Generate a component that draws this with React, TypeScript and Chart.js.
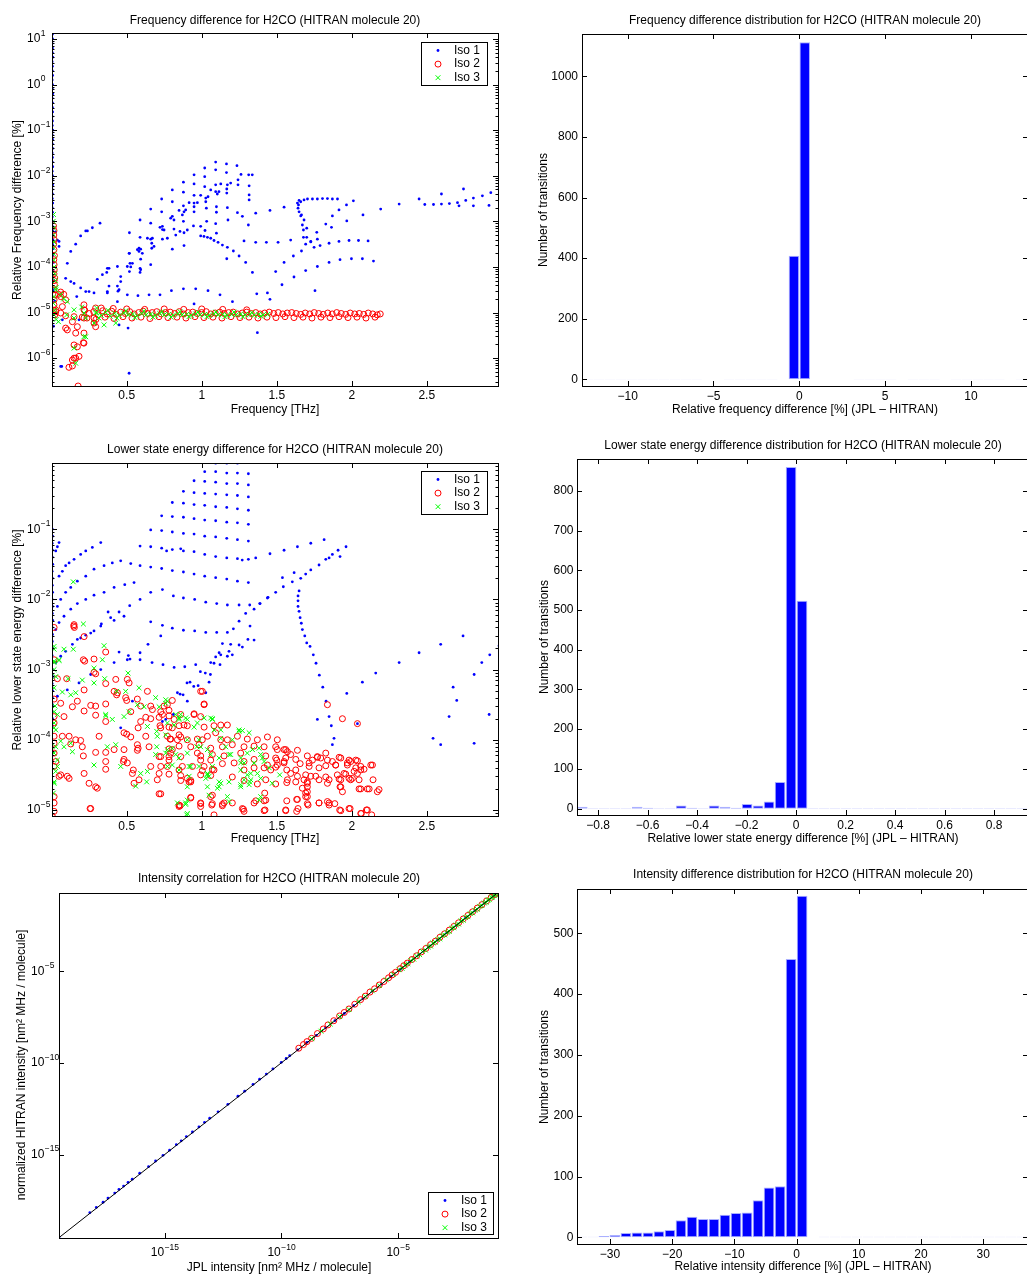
import React, { useEffect, useRef } from 'react';
import { Chart, registerables } from 'chart.js';

Chart.register(...registerables);

type Pair = [number, number];

// ===================== DATA =====================
// Panel 1: frequency difference. [frequency THz, log10(relative frequency difference %)]
const freqIso1: Pair[] = [
  [0.004,1.1],[0.006,1.0],[0.003,0.9],[0.005,0.8],[0.004,0.7],[0.007,0.6],[0.003,0.5],[0.005,0.4],[0.004,0.3],[0.006,0.2],
  [0.003,0.1],[0.005,0.0],[0.004,-0.1],[0.007,-0.2],[0.003,-0.3],[0.005,-0.4],[0.004,-0.5],[0.006,-0.6],[0.003,-0.7],[0.005,-0.8],
  [0.004,-0.9],[0.007,-1.0],[0.003,-1.1],[0.005,-1.2],[0.004,-1.3],[0.006,-1.4],[0.003,-1.5],[0.005,-1.6],[0.004,-1.7],[0.007,-1.8],
  [0.003,-1.9],[0.005,-2.0],[0.004,-2.1],[0.006,-2.2],[0.003,-2.3],[0.005,-2.4],[0.004,-2.5],[0.007,-2.6],[0.003,-2.7],[0.005,-2.8],
  [0.004,-2.9],[0.006,-3.0],[0.003,-3.1],[0.005,-3.2],[0.004,-3.3],[0.007,-3.4],[0.005,-3.5],[0.009,-3.6],[0.006,-3.75],[0.012,-3.9],
  [0.008,-4.1],[0.015,-4.3],[0.01,-4.5],[0.02,-4.75],[0.012,-5.3],
  [1.093,-1.70],[1.165,-1.74],[1.235,-1.78],[1.02,-1.83],[0.949,-1.98],[1.02,-2.02],[1.093,-1.87],[1.165,-1.93],[1.262,-1.97],[1.313,-1.98],
  [1.337,-1.98],[1.242,-2.09],[1.242,-2.20],[0.878,-2.14],[0.949,-2.18],[1.02,-2.24],[1.093,-2.20],[1.127,-2.18],[1.171,-2.20],[1.193,-2.16],
  [1.167,-2.29],[1.167,-2.38],[1.316,-2.22],[1.316,-2.42],[1.316,-2.53],[0.804,-2.31],[0.878,-2.36],[0.949,-2.43],[0.993,-2.43],[1.027,-2.49],
  [1.042,-2.46],[1.06,-2.31],[1.093,-2.35],[1.104,-2.40],[1.115,-2.35],[1.027,-2.57],[0.733,-2.51],[0.804,-2.57],[0.878,-2.66],[0.916,-2.59],
  [0.949,-2.60],[0.971,-2.59],[0.949,-2.68],[0.949,-2.79],[1.031,-2.71],[1.098,-2.68],[1.098,-2.80],[1.171,-2.70],[0.66,-2.73],[0.733,-2.79],
  [0.849,-2.76],[0.882,-2.79],[0.893,-2.75],[0.871,-2.86],[0.878,-3.0],[0.804,-2.89],[0.815,-2.97],[0.793,-2.93],[0.589,-2.97],[0.66,-3.04],
  [0.722,-3.13],[0.738,-3.11],[0.749,-3.19],[0.738,-3.18],[0.815,-3.17],[0.855,-3.22],[0.904,-3.19],[0.945,-3.10],[0.993,-3.11],[1.033,-3.0],
  [1.022,-3.20],[1.093,-3.05],[1.098,-3.26],[1.175,-2.97],[0.518,-3.25],[0.589,-3.35],[0.638,-3.37],[0.66,-3.39],[0.671,-3.37],[0.682,-3.55],
  [0.667,-3.48],[0.667,-3.59],[0.738,-3.39],[0.771,-3.37],[0.827,-3.30],[0.882,-3.25],[0.882,-3.53],[0.804,-3.61],[0.571,-3.62],[0.593,-3.61],
  [0.604,-3.70],[0.582,-3.66],[0.518,-3.70],[0.593,-3.83],[0.66,-3.95],[0.504,-3.99],[0.527,-4.0],[0.538,-3.92],[0.518,-4.10],[0.589,-4.03],
  [0.589,-4.12],[0.46,-4.21],[0.46,-4.32],[0.504,-4.61],[0.575,-4.63],[0.649,-4.61],[0.722,-4.61],[0.798,-4.52],[0.878,-4.48],[0.96,-4.48],
  [1.042,-4.52],[1.122,-4.61],[1.205,-4.76],[0.949,-4.81],
  [0.993,-3.32],[1.015,-3.33],[1.038,-3.35],[1.06,-3.37],[1.082,-3.42],[1.109,-3.46],[1.138,-3.52],[1.171,-3.57],[1.211,-3.65],[1.249,-3.76],
  [1.293,-3.90],[1.338,-4.12],[1.282,-3.43],[1.36,-3.46],[1.431,-3.46],[1.509,-3.46],[1.593,-3.41],[1.678,-3.35],[1.727,-3.45],[1.771,-3.39],
  [1.36,-2.82],[1.455,-2.76],[1.549,-2.69],[1.238,-2.81],[1.271,-2.89],[1.311,-3.08],[1.167,-3.82],[1.367,-4.59],[1.438,-4.57],[1.455,-4.71],
  [1.493,-4.10],[1.549,-3.90],[1.611,-3.76],[1.665,-3.65],[1.693,-3.50],[1.7,-3.35],[1.678,-3.19],[1.671,-3.08],[1.66,-2.88],[1.649,-2.79],
  [1.645,-2.64],[1.535,-4.39],[1.615,-4.22],[1.693,-4.08],[1.771,-3.99],
  [1.638,-2.60],[1.649,-2.54],[1.66,-2.57],[1.682,-2.53],[1.705,-2.51],[1.738,-2.51],[1.771,-2.51],[1.805,-2.50],[1.838,-2.50],[1.871,-2.51],
  [1.905,-2.51],[1.642,-2.71],[1.665,-2.86],[1.682,-2.97],[1.70,-3.15],[1.727,-3.44],[1.749,-3.57],
  [1.849,-3.90],[1.922,-3.84],[1.998,-3.82],[2.071,-3.82],[2.145,-3.87],[1.789,-3.53],[1.849,-3.48],[1.915,-3.44],[1.982,-3.42],[2.045,-3.42],
  [2.109,-3.43],[1.767,-3.24],[1.827,-3.06],[1.865,-3.13],[1.871,-2.88],[1.915,-2.75],[1.965,-2.64],[2.011,-2.55],[1.967,-2.99],[2.075,-2.86],
  [2.193,-2.73],[2.316,-2.62],[2.449,-2.51],[2.487,-2.63],[2.545,-2.63],[2.598,-2.40],[2.598,-2.62],[2.651,-2.61],[2.705,-2.59],[2.715,-2.66],
  [2.745,-2.29],[2.76,-2.54],[2.811,-2.49],[2.811,-2.66],[2.871,-2.44],[2.915,-2.65],[2.927,-2.37],[2.982,-2.29],
  [1.755,-4.52],[1.371,-5.44],[0.516,-6.33],[0.067,-6.18],
  [0.193,-3.32],[0.227,-3.21],[0.049,-3.44],[0.127,-3.66],[0.104,-3.92],[0.093,-4.25],[0.127,-4.32],[0.149,-4.36],[0.193,-4.46],[0.227,-4.54],
  [0.249,-4.54],[0.282,-4.57],[0.167,-4.65],[0.071,-5.16],[0.182,-5.16],[0.06,-6.18],[0.338,-4.17],[0.382,-4.03],[0.438,-3.99],[0.516,-3.70],
  [0.582,-3.59],[0.522,-3.92],[0.593,-4.06],[0.371,-4.57],[0.449,-4.50],[0.438,-4.76],[0.449,-5.27],[0.509,-5.34],
  [0.027,-3.23],[0.038,-3.41],[0.049,-3.55],[0.238,-3.21],[0.271,-3.14],[0.322,-3.04],[0.16,-3.50],[0.371,-4.03],[0.382,-4.42],[0.438,-4.42],
  [0.371,-4.54],[0.442,-4.53],[0.304,-4.27],[0.367,-4.12]
];
const freqIso2: Pair[] = [
  [0.012,-3.10],[0.015,-3.20],[0.014,-3.30],[0.016,-3.40],[0.013,-3.50],[0.015,-3.62],[0.018,-3.75],[0.014,-3.84],[0.016,-3.95],[0.017,-4.06],
  [0.015,-4.15],[0.02,-4.24],[0.016,-4.30],[0.018,-4.39],[0.014,-4.5],[0.02,-4.61],[0.016,-4.72],[0.015,-4.83],[0.012,-4.95],[0.02,-5.05],
  [0.06,-4.65],[0.093,-4.72],[0.071,-4.87],[0.027,-4.94],[0.027,-4.98],[0.06,-5.01],[0.093,-5.07],[0.149,-5.09],[0.138,-5.20],[0.093,-5.34],
  [0.104,-5.38],[0.215,-4.83],[0.215,-4.94],[0.204,-5.10],[0.215,-5.12],[0.282,-5.23],[0.282,-5.12],[0.171,-5.31],[0.16,-5.45],[0.211,-5.66],
  [0.149,-5.71],[0.171,-5.75],[0.149,-6.0],[0.138,-6.04],[0.16,-6.0],[0.182,-5.96],[0.115,-6.20],[0.138,-6.17],[0.176,-6.61],[0.215,-5.67],
  [0.215,-5.45],[0.293,-5.31],[0.293,-4.90],[0.06,-4.55],[0.045,-4.6],[0.08,-4.6],
  [0.22,-4.95],[0.25,-5.02],[0.28,-4.98],[0.31,-5.05],[0.34,-4.96],[0.37,-5.03],[0.40,-4.97],[0.43,-5.04],[0.46,-4.99],[0.49,-5.02],
  [0.52,-4.98],[0.55,-5.03],[0.58,-5.0],[0.61,-4.97],[0.64,-5.02],[0.67,-5.0],[0.70,-4.98],[0.73,-5.03],[0.76,-5.0],[0.79,-4.99],
  [0.82,-5.02],[0.85,-4.98],[0.88,-5.03],[0.91,-5.0],[0.94,-4.99],[0.97,-5.02],[1.00,-5.0],[1.03,-4.98],[1.06,-5.03],[1.09,-5.01],
  [1.12,-4.99],[1.15,-5.02],[1.18,-5.0],[1.21,-4.99],[1.24,-5.03],[1.27,-5.01],[1.30,-4.99],[1.33,-5.02],[1.36,-5.0],[1.39,-5.03],
  [1.42,-5.01],[1.45,-4.99],[1.48,-5.02],[1.51,-5.0],[1.54,-5.03],[1.57,-5.01],[1.60,-5.0],[1.63,-5.02],[1.66,-5.04],[1.69,-5.01],
  [1.72,-5.03],[1.75,-5.0],[1.78,-5.02],[1.81,-5.04],[1.84,-5.01],[1.87,-5.03],[1.90,-5.0],[1.93,-5.02],[1.96,-5.04],[1.99,-5.01],
  [2.02,-5.03],[2.05,-5.02],[2.08,-5.04],[2.11,-5.01],[2.14,-5.03],[2.17,-5.05],[2.19,-5.03],
  [0.235,-5.12],[0.295,-5.15],[0.355,-5.10],[0.415,-5.13],[0.475,-5.09],[0.535,-5.12],[0.595,-5.10],[0.655,-5.13],[0.715,-5.09],[0.775,-5.11],
  [0.835,-5.10],[0.895,-5.12],[0.955,-5.09],[1.015,-5.11],[1.075,-5.10],[1.135,-5.12],[1.195,-5.09],[1.255,-5.11],[1.315,-5.10],[1.375,-5.12],
  [1.435,-5.10],[1.495,-5.11],[1.555,-5.09],[1.615,-5.11],[1.675,-5.10],[1.735,-5.12],[1.795,-5.10],[1.855,-5.11],[1.915,-5.09],[1.975,-5.11],
  [2.035,-5.10],[2.095,-5.12],[2.155,-5.10],
  [0.33,-4.90],[0.41,-4.91],[0.5,-4.92],[0.62,-4.93],[0.75,-4.92],[0.88,-4.93],[1.0,-4.92],[1.14,-4.93],[1.3,-4.94]
];
const freqIso3: Pair[] = [
  [0.012,-2.85],[0.01,-3.0],[0.013,-3.15],[0.011,-3.3],[0.014,-3.45],[0.012,-3.58],[0.015,-3.72],[0.013,-3.85],[0.016,-4.0],[0.02,-4.15],
  [0.025,-4.3],[0.03,-4.45],[0.027,-4.5],[0.015,-4.65],[0.012,-4.8],[0.02,-4.95],[0.015,-5.05],[0.03,-5.15],
  [0.104,-4.76],[0.149,-4.94],[0.149,-5.12],[0.215,-5.01],[0.227,-5.12],[0.293,-5.01],[0.282,-5.23],[0.215,-5.53],[0.227,-5.53],[0.149,-5.78],
  [0.16,-6.11],[0.349,-5.27],[0.427,-5.23],[0.06,-4.6],[0.08,-4.7],[0.045,-5.2],[0.1,-5.05],[0.2,-4.88],[0.3,-4.9],
  [0.30,-5.0],[0.33,-5.06],[0.36,-5.0],[0.39,-5.08],[0.42,-5.02],[0.45,-5.06],[0.48,-5.01],[0.51,-5.05],[0.54,-5.03],[0.57,-5.07],
  [0.60,-5.02],[0.63,-5.05],[0.66,-5.03],[0.69,-5.06],[0.72,-5.02],[0.75,-5.05],[0.78,-5.04],[0.81,-5.06],[0.84,-5.03],[0.87,-5.05],
  [0.90,-5.04],[0.93,-5.06],[0.96,-5.03],[0.99,-5.05],[1.02,-5.04],[1.05,-5.06],[1.08,-5.03],[1.11,-5.05],[1.14,-5.04],[1.17,-5.06],
  [1.20,-5.04],[1.23,-5.05],[1.26,-5.03],[1.29,-5.05],[1.32,-5.04],[1.35,-5.06],[1.38,-5.04],[1.41,-5.05],[1.44,-5.04],
  [0.315,-5.12],[0.375,-4.95],[0.435,-5.12],[0.495,-4.96],[0.555,-5.11],[0.615,-4.97],[0.675,-5.10],[0.735,-4.98],[0.795,-5.10],[0.855,-4.98],
  [0.915,-5.09],[0.975,-4.99],[1.035,-5.09],[1.095,-4.99],[1.155,-5.09],[1.215,-4.99],[1.275,-5.09],[1.335,-5.0],[1.395,-5.08]
];
const freqXTicks = [0.5, 1, 1.5, 2, 2.5];
const freqYTickExps = [1, 0, -1, -2, -3, -4, -5, -6];

// Panel 2: frequency difference histogram
const freqDiffBins = [
  -12.285, -11.655, -11.025, -10.395, -9.765, -9.135, -8.505, -7.875, -7.245, -6.615, -5.985, -5.355, -4.725, -4.095,
  -3.465, -2.835, -2.205, -1.575, -0.945, -0.315, 0.315, 0.945, 1.575, 2.205, 2.835, 3.465, 4.095, 4.725, 5.355, 5.985,
  6.615, 7.245, 7.875, 8.505, 9.135, 9.765, 10.395, 11.025, 11.655, 12.285, 12.915
];
const freqDiffCounts = [
  1, 1, 1, 1, 1, 1, 1, 1, 1, 1, 1, 0, 0, 1,
  1, 1, 1, 1, 0, 408, 1113, 0, 0, 0, 0, 1, 1, 1, 1, 0,
  1, 1, 1, 0, 1, 1, 1, 1, 1, 0, 1
];
const freqDiffXTicks = [-10, -5, 0, 5, 10];
const freqDiffYTicks = [0, 200, 400, 600, 800, 1000];

// Panel 3: lower state energy difference. [frequency THz, log10(relative difference %)]
const elowIso1: Pair[] = [
  [0.004,-1.0],[0.006,-1.1],[0.003,-1.2],[0.005,-1.3],[0.004,-1.4],[0.007,-1.5],[0.003,-1.6],[0.005,-1.7],[0.004,-1.8],[0.006,-1.9],
  [0.003,-2.0],[0.005,-2.1],[0.004,-2.2],[0.007,-2.3],[0.003,-2.4],[0.005,-2.5],[0.004,-2.6],[0.006,-2.7],[0.003,-2.8],[0.005,-2.9],
  [0.004,-3.0],[0.007,-3.1],[0.003,-3.2],[0.005,-3.3],[0.004,-3.4],[0.006,-3.5],[0.003,-3.6],[0.005,-3.7],[0.004,-3.8],
  [1.093,-0.06],[1.167,-0.06],[1.238,-0.06],
  [1.02,-0.18],[1.093,-0.18],[1.167,-0.2],[1.238,-0.2],[1.311,-0.21],
  [0.949,-0.31],[1.02,-0.32],[1.093,-0.33],[1.167,-0.35],[1.238,-0.35],[1.311,-0.37],
  [0.878,-0.46],[0.949,-0.48],[1.02,-0.49],[1.093,-0.5],[1.167,-0.51],[1.238,-0.52],[1.311,-0.54],
  [0.804,-0.62],[0.878,-0.63],[0.949,-0.65],[1.02,-0.66],[1.093,-0.68],[1.167,-0.69],[1.238,-0.71],[1.311,-0.73],
  [0.733,-0.81],[0.804,-0.82],[0.878,-0.83],[0.949,-0.85],[1.02,-0.87],[1.093,-0.88],[1.167,-0.9],[1.238,-0.91],[1.311,-0.93],
  [0.66,-1.01],[0.733,-1.02],[0.804,-1.04],[0.878,-1.06],[0.949,-1.07],[1.02,-1.1],[1.093,-1.11],[1.167,-1.13],[1.238,-1.15],[1.311,-1.17],
  [0.589,-1.24],[0.66,-1.25],[0.733,-1.27],[0.766,-1.31],[0.804,-1.29],[0.86,-1.28],[0.878,-1.31],[0.949,-1.32],[1.02,-1.36],[1.093,-1.39],
  [1.167,-1.41],[1.238,-1.42],[1.27,-1.44],[1.311,-1.43],[1.36,-1.41],[1.455,-1.35],[1.549,-1.3],[1.638,-1.25],[1.727,-1.2],[1.816,-1.15],
  [0.527,-1.49],[0.589,-1.52],[0.66,-1.54],[0.733,-1.56],[0.804,-1.59],[0.878,-1.61],[0.949,-1.64],[1.02,-1.67],[1.093,-1.69],[1.167,-1.71],
  [1.238,-1.74],[1.311,-1.76],
  [1.909,-1.3],[1.962,-1.25],[1.922,-1.39],[1.871,-1.36],[1.849,-1.41],[1.827,-1.43],[1.782,-1.51],[1.727,-1.58],[1.693,-1.64],[1.66,-1.7],
  [1.616,-1.62],[1.538,-1.69],[1.438,-1.98],[1.389,-2.06],[1.349,-2.14],[1.293,-2.2],
  [1.649,-1.88],[1.642,-1.95],[1.642,-2.02],[1.642,-2.1],[1.649,-2.17],[1.656,-2.26],[1.664,-2.34],[1.671,-2.43],[1.687,-2.52],[1.7,-2.62],
  [1.722,-2.67],[1.744,-2.79],[1.762,-2.91],[1.784,-3.08],[1.807,-3.25],[1.829,-3.45],[1.849,-3.67],[1.864,-3.8],[1.882,-3.98],[1.871,-4.07],
  [1.771,-3.71],[2.16,-3.05],[2.071,-3.18],[2.316,-2.9],[1.967,-3.34],[2.038,-3.77],[2.449,-2.76],[2.593,-2.64],[2.676,-3.25],[2.7,-3.44],
  [2.816,-3.07],[2.867,-2.9],[2.92,-2.79],[2.982,-2.66],[2.742,-2.52],[2.916,-3.64],[2.649,-3.67],[2.542,-3.98],[2.593,-4.07],[2.816,-4.05],
  [0.049,-1.19],[0.038,-1.25],[0.027,-1.31],[0.049,-1.67],[0.071,-1.6],[0.093,-1.52],[0.116,-1.48],[0.149,-1.43],[0.193,-1.36],[0.227,-1.31],
  [0.271,-1.26],[0.327,-1.19],
  [0.038,-2.1],[0.06,-2.0],[0.093,-1.9],[0.127,-1.83],[0.171,-1.74],[0.227,-1.67],[0.282,-1.57],[0.349,-1.52],[0.404,-1.48],[0.46,-1.45],
  [0.027,-2.43],[0.049,-2.33],[0.082,-2.24],[0.127,-2.14],[0.171,-2.06],[0.227,-2.0],[0.282,-1.94],[0.349,-1.9],[0.416,-1.83],[0.487,-1.79],
  [0.549,-1.76],
  [0.027,-2.9],[0.06,-2.81],[0.093,-2.74],[0.138,-2.64],[0.193,-2.55],[0.26,-2.48],[0.327,-2.38],[0.416,-2.3],[0.482,-2.24],
  [0.038,-3.38],[0.104,-3.29],[0.182,-3.19],[0.26,-3.07],[0.327,-3.0],[0.416,-2.9],[0.504,-2.86],
  [0.376,-2.18],[0.393,-2.26],[0.449,-2.18],[0.52,-2.09],[0.589,-2.0],[0.66,-1.9],[0.738,-1.86],[0.811,-1.95],[0.878,-1.98],[0.953,-2.0],
  [1.027,-2.04],[1.1,-2.06],[1.171,-2.08],[1.249,-2.08],[1.32,-2.08],[1.387,-2.06],[1.442,-1.97],[1.493,-1.9],[1.544,-1.82],[1.604,-1.75],
  [0.331,-2.35],[0.282,-2.45],[0.227,-2.51],[0.171,-2.57],
  [0.66,-2.32],[0.738,-2.37],[0.804,-2.41],[0.878,-2.44],[0.953,-2.45],[1.027,-2.47],[1.1,-2.47],[1.171,-2.47],[1.211,-2.42],[1.249,-2.31],
  [1.322,-2.38],[0.727,-2.52],[0.642,-2.64],[0.589,-2.76],[0.522,-2.85],
  [0.589,-2.86],[0.669,-2.9],[0.742,-2.93],[0.816,-2.97],[0.887,-2.96],
  [0.838,-3.33],[0.876,-3.36],[0.902,-3.19],[0.947,-3.24],[0.991,-3.03],[1.024,-3.05],[1.058,-3.07],
  [1.138,-2.63],[1.193,-2.64],[1.249,-2.65],[1.271,-2.68],[1.308,-2.57],[1.349,-2.58],[1.116,-2.76],[1.127,-2.79],[1.182,-2.74],[1.204,-2.79],
  [1.171,-2.81],[1.093,-2.82],[1.06,-2.9],[1.082,-2.91],[1.122,-2.93],[0.96,-2.93],[1.049,-3.18],[0.922,-3.18],[0.976,-3.23],[0.856,-3.35],
  [0.904,-3.45],[1.027,-3.33],[0.811,-3.64],[0.76,-3.71],[0.738,-3.74],
  [0.46,-3.83],[0.538,-3.45],[0.511,-2.8],[0.449,-2.75]
];
const elowIso2: Pair[] = [
  [0.016,-2.40],[0.149,-2.36],[0.151,-2.40],[0.147,-2.38],[0.216,-2.53],[0.211,-2.86],[0.22,-2.88],[0.282,-2.85],[0.36,-2.75],[0.1,-3.13],
  [0.038,-3.13],[0.016,-2.86],[0.282,-3.04],[0.293,-3.06],[0.216,-3.29],[0.36,-3.20],[0.427,-3.14],[0.416,-3.31],[0.438,-3.33],[0.433,-3.36],
  [0.504,-3.14],[0.516,-3.19],[0.493,-3.40],[0.5,-3.44],[0.638,-3.31],[0.571,-3.42],[0.593,-3.52],[0.66,-3.52],[0.671,-3.57],[0.527,-3.60],
  [0.36,-3.49],[0.293,-3.52],[0.171,-3.45],[0.138,-3.53],[0.216,-3.59],[0.26,-3.51],[0.06,-3.48],[0.016,-3.42],[0.082,-3.67],[0.016,-3.67],
  [0.293,-3.65],[0.36,-3.74],[0.482,-3.90],[0.5,-3.92],[0.576,-3.83],[0.593,-3.74],[0.627,-3.68],[0.66,-3.70],[0.716,-3.68],[0.727,-3.60],
  [0.782,-3.66],[0.722,-3.80],[0.804,-3.83],[0.882,-3.79],[0.949,-3.64],[0.993,-3.31],[1.016,-3.50],[0.116,-3.95],[0.071,-3.95],[0.16,-4.0],
  [0.193,-4.01],[0.127,-4.06],[0.204,-4.10],[0.211,-4.23],[0.016,-3.76],[0.016,-3.95],[0.016,-4.05],[0.016,-4.19],[0.027,-4.31],[0.016,-4.38],
  [0.049,-4.52],[0.016,-4.90],[0.016,-5.02],[0.316,-3.95],[0.293,-4.18],[0.36,-4.18],[0.36,-4.31],[0.482,-4.28],[0.478,-4.31],[0.416,-4.14],
  [0.571,-4.07],[0.576,-4.12],[0.571,-4.15],[0.482,-4.14],[0.527,-3.96],[0.216,-4.48],[0.293,-4.67],[0.36,-4.42],[0.549,-4.62],[0.538,-4.48],
  [0.249,-4.62],[0.104,-4.52],[0.26,-4.98],[0.704,-4.57],[0.716,-4.48],[0.782,-4.29],[0.793,-4.19],[0.838,-4.0],[0.849,-4.43],[0.904,-4.55],
  [0.727,-4.38],[0.716,-4.24],[0.916,-4.60],[0.993,-4.95],[0.927,-4.83],[0.849,-4.95],[1.06,-4.81],[1.138,-4.92],[1.082,-5.07],[0.627,-3.95],
  [0.649,-4.10],[0.66,-4.38],[0.771,-3.95],[0.789,-3.99],[0.782,-4.13],[0.849,-3.93],[0.904,-4.0],[0.971,-3.99],[0.971,-4.19],[0.993,-4.29],
  [0.938,-4.38],[1.016,-4.38],[1.082,-4.43],[1.06,-4.29],
  [1.004,-3.31],[1.016,-3.49],[0.804,-3.44],[0.771,-3.50],[0.749,-3.52],[0.782,-3.58],[0.738,-3.64],[0.949,-3.63],[0.993,-3.67],[0.86,-3.64],
  [0.816,-3.71],[0.904,-3.80],[0.849,-3.80],[0.782,-3.82],[0.727,-3.83],[1.016,-3.82],[1.082,-3.80],[1.127,-3.79],[1.171,-3.79],[0.86,-3.96],
  [0.793,-3.99],[1.004,-4.0],[1.038,-3.95],[1.093,-3.90],[1.127,-4.0],[1.171,-4.0],[1.238,-3.95],[1.304,-3.99],[1.371,-4.0],[1.438,-3.96],
  [1.504,-4.0],[0.804,-4.14],[0.849,-4.09],[0.927,-4.10],[0.982,-4.07],[1.06,-4.12],[1.138,-4.10],[1.204,-4.07],[1.282,-4.10],[1.349,-4.09],
  [1.416,-4.10],[1.493,-4.10],[1.549,-4.14],[1.571,-4.17],[1.638,-4.15],[1.704,-4.23],[1.771,-4.25],[1.827,-4.19],[1.916,-4.25],[1.982,-4.29],
  [2.038,-4.30],[2.138,-4.36],[0.727,-4.24],[0.782,-4.24],[0.86,-4.24],[0.993,-4.23],[1.071,-4.21],[1.149,-4.23],[1.26,-4.19],[1.282,-4.31],
  [1.349,-4.28],[1.427,-4.23],[1.493,-4.26],[1.56,-4.26],[1.627,-4.28],[1.656,-4.34],[1.716,-4.38],[1.782,-4.40],[1.827,-4.37],[1.893,-4.36],
  [1.971,-4.36],[2.027,-4.40],[2.06,-4.38],[0.771,-4.38],[0.871,-4.38],[1.004,-4.44],[1.071,-4.42],[1.138,-4.34],[1.216,-4.33],[1.282,-4.43],
  [1.349,-4.40],[1.416,-4.40],[1.493,-4.39],[1.567,-4.43],[1.627,-4.43],[1.693,-4.50],[1.76,-4.52],[1.827,-4.53],[1.904,-4.50],[1.96,-4.49],
  [2.016,-4.45],[2.082,-4.42],[0.782,-4.49],[0.86,-4.51],[0.927,-4.58],[0.993,-4.50],[1.06,-4.51],[1.204,-4.53],[1.282,-4.58],[1.371,-4.63],
  [1.493,-4.63],[1.567,-4.61],[1.627,-4.60],[1.704,-4.60],[1.782,-4.57],[1.849,-4.57],[1.916,-4.56],[1.982,-4.55],[2.049,-4.57],[0.727,-4.77],
  [0.927,-4.82],[1.071,-4.79],[1.204,-4.90],[1.271,-4.98],[1.282,-5.02],[1.349,-4.90],[1.427,-4.86],[1.42,-4.76],[1.567,-4.87],[1.638,-4.85],
  [1.704,-4.91],[1.782,-4.90],[1.849,-4.90],[1.927,-5.01],[1.982,-4.98],[2.06,-5.05],[2.104,-5.0],[2.06,-4.70],[2.116,-4.70],[2.171,-4.74],
  [2.182,-4.71],[1.927,-4.67],[1.838,-4.62],[1.704,-4.67],[1.704,-4.74],[1.704,-4.81],[0.849,-4.93],[0.993,-4.90],[1.071,-4.91],[1.149,-4.90],
  [1.416,-5.01],[1.56,-5.01],[1.633,-5.02],[1.838,-3.50],[1.938,-3.70],[2.038,-3.77],
  [2.127,-4.36],[2.142,-4.57],[2.049,-4.70],[2.104,-4.70],[2.098,-5.0],[2.133,-5.07],[2.064,-5.05],[1.989,-4.98],[1.92,-5.0],[1.887,-4.91],
  [1.849,-4.93],[1.838,-4.88],[1.782,-4.90],[1.709,-4.93],[1.633,-4.85],[1.56,-5.0],[1.642,-4.98],[1.422,-5.0],[1.416,-4.87],[1.36,-4.87],
  [1.278,-4.99],[1.138,-4.94],[1.067,-4.93],[0.993,-4.91],[0.856,-4.94],[0.927,-4.60],[0.86,-4.58],[0.716,-4.77],[0.582,-4.57],[0.544,-4.43],
  [0.504,-4.33],[0.304,-4.69],[0.256,-4.98],[0.116,-4.55],[0.06,-4.5],[0.016,-4.81],[0.004,-5.09],
  [1.927,-4.26],[1.993,-4.31],[2.027,-4.29],[1.971,-4.33],[2.06,-4.43],[2.038,-4.48],[2.004,-4.55],[1.993,-4.57],[1.949,-4.48],[1.927,-4.57],
  [1.922,-4.67],[1.938,-4.74],[1.893,-4.36],[1.871,-4.31],[1.838,-4.29],[1.793,-4.26],[1.771,-4.24],[1.738,-4.29],[1.716,-4.33],[1.727,-4.52],
  [1.682,-4.57],[1.671,-4.69],[1.693,-4.76],[1.693,-4.81],[1.704,-4.62],[1.638,-4.52],[1.593,-4.48],[1.571,-4.57],[1.549,-4.33],[1.504,-4.36],
  [1.46,-4.43],[1.427,-4.57],[1.438,-4.36],[1.504,-4.14],[1.56,-4.14],[1.593,-4.21],[1.549,-4.31],[1.5,-4.29]
];
const elowIso3: Pair[] = [
  [0.144,-1.75],[0.211,-2.35],[0.349,-2.66],[0.144,-2.71],[0.016,-2.71],[0.016,-2.88],[0.338,-2.86],[0.282,-2.98],[0.016,-3.0],[0.109,-3.13],
  [0.049,-2.87],[0.204,-3.15],[0.282,-3.19],[0.353,-3.13],[0.509,-3.05],[0.433,-3.31],[0.493,-3.31],[0.582,-3.26],[0.693,-3.40],[0.127,-3.36],
  [0.16,-3.33],[0.071,-3.32],[0.016,-3.26],[0.016,-3.60],[0.016,-3.76],[0.016,-3.83],[0.038,-3.64],[0.36,-3.64],[0.404,-3.71],[0.36,-3.66],
  [0.516,-3.60],[0.482,-3.67],[0.571,-3.50],[0.616,-3.53],[0.716,-3.53],[0.76,-3.43],[0.638,-3.81],[0.7,-3.88],[0.771,-3.76],[0.816,-3.79],
  [0.849,-3.69],[0.904,-3.71],[0.971,-3.76],[1.016,-3.69],[1.071,-3.70],[0.138,-4.17],[0.127,-4.05],[0.082,-4.10],[0.06,-4.02],[0.016,-4.19],
  [0.038,-4.38],[0.016,-4.60],[0.282,-4.36],[0.46,-4.38],[0.371,-4.10],[0.427,-4.07],[0.56,-4.66],[0.593,-4.48],[0.638,-4.45],[0.633,-4.60],
  [0.704,-3.95],[0.7,-4.10],[0.76,-4.19],[0.804,-4.12],[0.693,-4.21],[0.804,-4.36],[0.904,-4.19],[0.916,-4.38],[0.982,-4.0],[0.967,-4.10],
  [1.038,-4.50],[1.071,-4.38],[0.904,-5.05],[0.893,-4.90],[0.838,-4.90],[0.904,-4.86],[1.027,-4.55],[1.049,-4.52],[1.116,-4.60],[1.104,-4.69],
  [0.76,-3.48],[0.771,-3.45],[0.827,-3.64],[0.86,-3.64],[0.893,-3.69],[0.849,-3.71],[1.06,-3.69],[1.071,-3.71],[0.949,-3.82],[1.127,-3.86],
  [1.082,-3.86],[1.249,-3.86],[1.271,-3.87],[1.204,-4.0],[1.127,-3.98],[1.16,-4.10],[0.993,-4.10],[1.038,-4.14],[1.06,-4.21],[1.116,-4.26],
  [1.182,-4.21],[1.26,-4.26],[1.304,-4.19],[1.338,-4.14],[1.382,-4.12],[1.393,-4.21],[1.404,-4.26],[1.282,-4.33],[1.26,-4.43],[1.327,-4.48],
  [1.304,-4.50],[1.327,-4.57],[1.393,-4.55],[1.26,-4.67],[1.127,-4.62],[1.116,-4.67],[1.182,-4.60],[1.038,-4.67],[1.038,-4.48],[0.982,-4.38],
  [0.927,-4.38],[0.849,-4.43],[0.771,-4.38],[0.771,-4.14],[0.76,-3.93],[0.904,-4.0],[0.827,-4.21],[0.849,-4.26],[0.916,-4.52],[0.904,-4.67],
  [1.049,-4.79],[1.171,-4.81],[1.182,-4.88],[1.393,-4.81],[1.382,-4.86],[0.893,-4.92],
  [1.371,-4.48],[1.282,-4.57],[1.349,-4.33],[1.26,-4.33],[1.193,-4.21],[1.416,-4.31],[1.316,-3.90],[1.249,-3.88],[1.26,-4.64],[1.316,-4.64],
  [1.32,-4.60],[0.016,-2.67],[0.016,-2.90],[0.027,-3.10],[0.022,-3.52],[0.027,-3.86],[0.027,-4.10],[0.038,-4.29],[0.027,-4.45],[0.016,-4.62],
  [0.011,-4.76],[0.082,-2.71],[0.049,-2.86],[1.45,-4.4],[1.47,-4.62],[1.52,-4.5],[0.9,-5.07]
];
const elowXTicks = [0.5, 1, 1.5, 2, 2.5];
const elowYTickExps = [-1, -2, -3, -4, -5];

// Panel 4: lower state energy difference histogram
const elowDiffBins = [
  -0.8638, -0.8194, -0.775, -0.7306, -0.6862, -0.6418, -0.5974, -0.553, -0.5086, -0.4642, -0.4198, -0.3754, -0.331, -0.2866,
  -0.2422, -0.1978, -0.1534, -0.109, -0.0646, -0.0202, 0.0242, 0.0686, 0.113, 0.1574, 0.2018, 0.2462, 0.2906, 0.335, 0.3794,
  0.4238, 0.4682, 0.5126, 0.557, 0.6014, 0.6458, 0.6902, 0.7346, 0.779, 0.8234, 0.8678, 0.9122
];
const elowDiffCounts = [
  5, 1, 1, 1, 1, 5, 2, 1, 1, 8, 2, 1, 8, 5,
  2, 12, 8, 18, 67, 860, 523, 1, 1, 1, 1, 1, 1, 1, 1,
  1, 1, 1, 1, 1, 1, 1, 1, 1, 1, 1, 1
];
const elowDiffXTicks = [-0.8, -0.6, -0.4, -0.2, 0, 0.2, 0.4, 0.6, 0.8];
const elowDiffYTicks = [0, 100, 200, 300, 400, 500, 600, 700, 800];

// Panel 5: intensity correlation. [log10 JPL intensity, log10 normalized HITRAN intensity]
const intIso1: Pair[] = [
  [-19.53,-19.52],[-18.21,-18.17],[-17.93,-17.88],[-17.64,-17.6],[-17.43,-17.37],[-17.14,-17.1],[-16.96,-16.9],[-16.76,-16.72],[-16.57,-16.52],
  [-16.39,-16.34],[-16.07,-16.02],[-15.69,-15.66],[-15.39,-15.35],[-15.07,-15.04],[-14.79,-14.76],[-14.5,-14.46],[-14.29,-14.25],[-14.07,-14.02],
  [-13.81,-13.77],[-13.53,-13.49],[-13.29,-13.24],[-13.07,-13.02],[-12.71,-12.67],[-12.29,-12.26],[-11.86,-11.82],[-11.57,-11.54],[-11.21,-11.17],
  [-10.93,-10.89],[-10.64,-10.61],[-10.36,-10.33],[-10.0,-9.97],[-9.79,-9.76],[-9.64,-9.61],[-9.3,-9.29],[-8.9,-8.88],[-8.5,-8.5],[-8.1,-8.08],
  [-7.7,-7.69],[-7.3,-7.3],[-6.9,-6.88],[-6.5,-6.5],[-6.1,-6.09],[-5.7,-5.7],[-5.3,-5.28],[-4.9,-4.9],[-4.5,-4.49],[-4.1,-4.1],[-3.7,-3.68],
  [-3.3,-3.3],[-2.9,-2.89],[-2.5,-2.5],[-2.1,-2.09],[-1.7,-1.7],[-1.3,-1.29],[-0.9,-0.9]
];
const intIso2: Pair[] = [
  [-9.25,-9.2],[-9.05,-9.0],[-8.9,-8.84],[-8.7,-8.66],[-8.45,-8.4],[-8.2,-8.15],[-8.0,-7.93],[-7.75,-7.7],[-7.5,-7.44],[-7.3,-7.25],
  [-7.1,-7.06],[-6.85,-6.8],[-6.6,-6.55],[-6.4,-6.36],[-6.2,-6.14],[-6.0,-5.96],[-5.8,-5.75],[-5.6,-5.56],[-5.4,-5.36],[-5.25,-5.2],
  [-5.1,-5.06],[-4.9,-4.86],[-4.75,-4.7],[-4.6,-4.56],[-4.4,-4.36],[-4.2,-4.16],[-4.0,-3.95],[-3.8,-3.76],[-3.6,-3.55],[-3.4,-3.37],
  [-3.2,-3.15],[-3.0,-2.96],[-2.8,-2.76],[-2.6,-2.56],[-2.4,-2.36],[-2.2,-2.15],[-2.0,-1.96],[-1.8,-1.76],[-1.6,-1.56],[-1.4,-1.37],
  [-1.2,-1.17],[-1.0,-0.97],[-0.85,-0.82],[-0.74,-0.74]
];
const intIso3: Pair[] = [
  [-8.7,-8.68],[-8.3,-8.27],[-7.9,-7.88],[-7.5,-7.47],[-7.1,-7.09],[-6.7,-6.67],[-6.4,-6.38],[-6.1,-6.07],[-5.8,-5.78],[-5.5,-5.47],
  [-5.2,-5.18],[-4.95,-4.92],[-4.7,-4.68],[-4.45,-4.42],[-4.2,-4.18],[-3.95,-3.92],[-3.7,-3.68],[-3.5,-3.46],[-3.3,-3.28],[-3.1,-3.06],
  [-2.9,-2.88],[-2.7,-2.66],[-2.5,-2.48],[-2.3,-2.26],[-2.1,-2.08],[-1.9,-1.86],[-1.7,-1.68],[-1.5,-1.46],[-1.3,-1.28],[-1.15,-1.12],
  [-1.0,-0.98],[-0.88,-0.86],[-0.78,-0.77],
  [-4.82,-4.84],[-4.57,-4.59],[-4.32,-4.34],[-4.07,-4.1],[-3.82,-3.85],[-3.6,-3.63],[-3.4,-3.42],[-3.2,-3.23],[-3.0,-3.02],[-2.8,-2.83],
  [-2.6,-2.62],[-2.4,-2.43],[-2.2,-2.22],[-2.0,-2.03],[-1.8,-1.82],[-1.6,-1.62],[-1.4,-1.42],[-1.22,-1.24],[-1.08,-1.1],[-0.94,-0.96],
  [-0.82,-0.84]
];
const intTickExps = [-15, -10, -5];

// Panel 6: intensity difference histogram
const intDiffBins = [
  -34.515, -32.745, -30.975, -29.205, -27.435, -25.665, -23.895, -22.125, -20.355, -18.585, -16.815, -15.045, -13.275, -11.505,
  -9.735, -7.965, -6.195, -4.425, -2.655, -0.885, 0.885, 2.655, 4.425, 6.195, 7.965, 9.735, 11.505, 13.275, 15.045, 16.815,
  18.585, 20.355, 22.125, 23.895, 25.665, 27.435, 29.205, 30.975, 32.745, 34.515, 36.285
];
const intDiffCounts = [
  1, 1, 2, 4, 7, 8, 8, 10, 12, 28, 34, 30, 30, 37,
  40, 41, 61, 82, 84, 458, 562, 0, 1, 1, 1, 1, 1, 1, 1, 1,
  1, 1, 1, 1, 1, 1, 1, 1, 1, 1, 1
];
const intDiffXTicks = [-30, -20, -10, 0, 10, 20, 30];
const intDiffYTicks = [0, 100, 200, 300, 400, 500];

const isoLabels = ['Iso 1', 'Iso 2', 'Iso 3'];

// ===================== LAYOUT / STYLE =====================
const CW = 1040;
const CH = 1280;
const FONT = '"Liberation Sans", Arial, Helvetica, sans-serif';
const FS = 12;
const SUP_FS = 8.5;
const BLUE = '#0000ff';
const RED = '#ff0000';
const GREEN = '#00ff00';

interface Area { L: number; T: number; R: number; B: number }
interface FrameSpec {
  title: string; titleX: number; titleY: number;
  xTitle: string; xTitleX: number; xTitleY: number;
  yTitle: string; yTitleX: number; yTitleY: number;
  xTicks: number[]; xLog: boolean; xLabelY: number;
  yTicks: number[]; yLog: boolean; yLabelX: number; yMinor: boolean;
  legend?: { left: number; top: number; w: number; h: number };
}

function fmtNum(v: number): string {
  return v < 0 ? '\u2212' + String(Math.abs(v)) : String(v);
}

function drawPow(ctx: CanvasRenderingContext2D, x: number, y: number, exp: number, align: 'left' | 'center') {
  const sup = fmtNum(exp);
  ctx.font = `${FS}px ${FONT}`;
  const wb = ctx.measureText('10').width;
  ctx.font = `${SUP_FS}px ${FONT}`;
  const ws = ctx.measureText(sup).width;
  const sx = align === 'center' ? x - (wb + ws) / 2 : x;
  ctx.textAlign = 'left';
  ctx.textBaseline = 'middle';
  ctx.font = `${FS}px ${FONT}`;
  ctx.fillText('10', sx, y);
  ctx.font = `${SUP_FS}px ${FONT}`;
  ctx.fillText(sup, sx + wb + 0.5, y - 5.5);
}

function makeFramePlugin(s: FrameSpec) {
  return {
    id: 'frame',
    afterDraw(chart: any) {
      const ctx: CanvasRenderingContext2D = chart.ctx;
      const { left: L, top: T, right: R, bottom: B } = chart.chartArea;
      const xs = chart.scales.x;
      const ys = chart.scales.y;
      ctx.save();
      ctx.strokeStyle = '#000';
      ctx.lineWidth = 1;
      const major = 5;
      const minor = 2.5;
      ctx.beginPath();
      const xVals = s.xTicks.map((t) => (s.xLog ? Math.pow(10, t) : t));
      xVals.forEach((v) => {
        const p = Math.round(xs.getPixelForValue(v)) + 0.5;
        ctx.moveTo(p, B); ctx.lineTo(p, B - major);
        ctx.moveTo(p, T); ctx.lineTo(p, T + major);
      });
      const yVals = s.yTicks.map((t) => (s.yLog ? Math.pow(10, t) : t));
      yVals.forEach((v) => {
        const p = Math.round(ys.getPixelForValue(v)) + 0.5;
        ctx.moveTo(L, p); ctx.lineTo(L + major, p);
        ctx.moveTo(R, p); ctx.lineTo(R - major, p);
      });
      if (s.yMinor) {
        const lo = Math.floor(Math.log10(ys.min));
        const hi = Math.ceil(Math.log10(ys.max));
        for (let d = lo; d <= hi; d++) {
          for (let m = 2; m <= 9; m++) {
            const v = m * Math.pow(10, d);
            if (v <= ys.min || v >= ys.max) continue;
            const p = Math.round(ys.getPixelForValue(v)) + 0.5;
            ctx.moveTo(L, p); ctx.lineTo(L + minor, p);
            ctx.moveTo(R, p); ctx.lineTo(R - minor, p);
          }
        }
      }
      ctx.stroke();
      ctx.strokeRect(L + 0.5, T + 0.5, R - L, B - T);

      ctx.fillStyle = '#000';
      ctx.textBaseline = 'middle';
      xVals.forEach((v, i) => {
        const p = xs.getPixelForValue(v);
        if (s.xLog) drawPow(ctx, p, s.xLabelY, s.xTicks[i], 'center');
        else {
          ctx.font = `${FS}px ${FONT}`;
          ctx.textAlign = 'center';
          ctx.fillText(fmtNum(s.xTicks[i]), p, s.xLabelY);
        }
      });
      yVals.forEach((v, i) => {
        const p = ys.getPixelForValue(v);
        if (s.yLog) drawPow(ctx, s.yLabelX, p, s.yTicks[i], 'left');
        else {
          ctx.font = `${FS}px ${FONT}`;
          ctx.textAlign = 'right';
          ctx.fillText(fmtNum(s.yTicks[i]), s.yLabelX, p);
        }
      });

      ctx.font = `${FS}px ${FONT}`;
      ctx.textAlign = 'center';
      ctx.textBaseline = 'middle';
      ctx.fillText(s.title, s.titleX, s.titleY);
      ctx.fillText(s.xTitle, s.xTitleX, s.xTitleY);
      ctx.save();
      ctx.translate(s.yTitleX, s.yTitleY);
      ctx.rotate(-Math.PI / 2);
      ctx.fillText(s.yTitle, 0, 0);
      ctx.restore();

      if (s.legend) {
        const lg = s.legend;
        ctx.fillStyle = '#fff';
        ctx.fillRect(lg.left, lg.top, lg.w, lg.h);
        ctx.strokeStyle = '#000';
        ctx.lineWidth = 1;
        ctx.strokeRect(lg.left + 0.5, lg.top + 0.5, lg.w, lg.h);
        isoLabels.forEach((lab, i) => {
          const y = lg.top + 8.5 + i * 13.6;
          const mx = lg.left + 17;
          if (i === 0) {
            ctx.fillStyle = BLUE;
            ctx.beginPath(); ctx.arc(mx, y, 1.4, 0, Math.PI * 2); ctx.fill();
          } else if (i === 1) {
            ctx.strokeStyle = RED;
            ctx.beginPath(); ctx.arc(mx, y, 3, 0, Math.PI * 2); ctx.stroke();
          } else {
            ctx.strokeStyle = GREEN;
            ctx.beginPath();
            ctx.moveTo(mx - 2.4, y - 2.4); ctx.lineTo(mx + 2.4, y + 2.4);
            ctx.moveTo(mx - 2.4, y + 2.4); ctx.lineTo(mx + 2.4, y - 2.4);
            ctx.stroke();
          }
          ctx.fillStyle = '#000';
          ctx.font = `${FS}px ${FONT}`;
          ctx.textAlign = 'left';
          ctx.textBaseline = 'middle';
          ctx.fillText(lab, lg.left + 33, y);
        });
      }
      ctx.restore();
    },
  };
}

function padding(a: Area) {
  return { left: a.L, top: a.T, right: CW - a.R, bottom: CH - a.B };
}

const iso1Style = { pointStyle: 'circle', pointRadius: 1.4, pointBackgroundColor: BLUE, pointBorderColor: BLUE, pointBorderWidth: 0, order: 3 };
const iso2Style = { pointStyle: 'circle', pointRadius: 3, pointBackgroundColor: 'rgba(0,0,0,0)', pointBorderColor: RED, pointBorderWidth: 1, order: 2 };
const iso3Style = { pointStyle: 'crossRot', pointRadius: 3.4, pointBackgroundColor: GREEN, pointBorderColor: GREEN, pointBorderWidth: 1, order: 1 };

function linLogPts(arr: Pair[]) {
  return arr.map(([x, e]) => ({ x, y: Math.pow(10, e) }));
}
function logLogPts(arr: Pair[]) {
  return arr.map(([a, b]) => ({ x: Math.pow(10, a), y: Math.pow(10, b) }));
}

interface ScatterPanel {
  area: Area; frame: FrameSpec;
  iso: Pair[][]; logX: boolean;
  xMin: number; xMax: number; yMin: number; yMax: number; diagonal?: boolean;
}

function buildScatter(canvas: HTMLCanvasElement, p: ScatterPanel) {
  const conv = p.logX ? logLogPts : linLogPts;
  const styles = [iso1Style, iso2Style, iso3Style];
  const datasets: any[] = p.iso.map((arr, i) => ({ label: isoLabels[i], data: conv(arr), ...styles[i] }));
  if (p.diagonal) {
    datasets.push({
      label: 'y = x',
      data: [{ x: p.xMin, y: p.xMin }, { x: p.xMax, y: p.xMax }],
      showLine: true, pointRadius: 0, borderColor: '#000', borderWidth: 1, order: 0,
    });
  }
  return new Chart(canvas, {
    type: 'scatter',
    data: { datasets },
    options: {
      animation: false, responsive: false, events: [],
      layout: { autoPadding: false, padding: padding(p.area) },
      scales: {
        x: { type: p.logX ? 'logarithmic' : 'linear', display: false, min: p.xMin, max: p.xMax },
        y: { type: 'logarithmic', display: false, min: p.yMin, max: p.yMax },
      },
      plugins: { legend: { display: false }, tooltip: { enabled: false }, title: { display: false } },
    } as any,
    plugins: [makeFramePlugin(p.frame)],
  } as any);
}

interface HistPanel {
  area: Area; frame: FrameSpec; bins: number[]; counts: number[];
  xMin: number; xMax: number; yMin: number; yMax: number;
}

function buildHist(canvas: HTMLCanvasElement, p: HistPanel) {
  return new Chart(canvas, {
    type: 'bar',
    data: {
      datasets: [{
        label: 'count',
        data: p.bins.map((c, i) => ({ x: c, y: p.counts[i] })),
        backgroundColor: BLUE, borderColor: '#aab0ff', borderWidth: 1, borderSkipped: false,
        barPercentage: 0.97, categoryPercentage: 1,
      }],
    },
    options: {
      animation: false, responsive: false, events: [],
      layout: { autoPadding: false, padding: padding(p.area) },
      scales: {
        x: { type: 'linear', display: false, offset: false, min: p.xMin, max: p.xMax },
        y: { type: 'linear', display: false, min: p.yMin, max: p.yMax },
      },
      plugins: { legend: { display: false }, tooltip: { enabled: false }, title: { display: false } },
    } as any,
    plugins: [makeFramePlugin(p.frame)],
  } as any);
}

const JPL_HITRAN = '(JPL \u2013 HITRAN)';

const panel1: ScatterPanel = {
  area: { L: 52, T: 33, R: 498, B: 386 },
  iso: [freqIso1, freqIso2, freqIso3], logX: false,
  xMin: 0.002, xMax: 2.975, yMin: Math.pow(10, -6.61), yMax: Math.pow(10, 1.13),
  frame: {
    title: 'Frequency difference for H2CO (HITRAN molecule 20)', titleX: 275, titleY: 20.5,
    xTitle: 'Frequency [THz]', xTitleX: 275, xTitleY: 409.5,
    yTitle: 'Relative Frequency difference [%]', yTitleX: 18, yTitleY: 210,
    xTicks: freqXTicks, xLog: false, xLabelY: 396,
    yTicks: freqYTickExps, yLog: true, yLabelX: 27, yMinor: true,
    legend: { left: 421, top: 42, w: 66, h: 43 },
  },
};

const panel2: HistPanel = {
  area: { L: 582, T: 34, R: 1028, B: 386 },
  bins: freqDiffBins, counts: freqDiffCounts,
  xMin: -12.66, xMax: 13.32, yMin: -22, yMax: 1140,
  frame: {
    title: 'Frequency difference distribution for H2CO (HITRAN molecule 20)', titleX: 805, titleY: 20.5,
    xTitle: 'Relative frequency difference [%] ' + JPL_HITRAN, xTitleX: 805, xTitleY: 410,
    yTitle: 'Number of transitions', yTitleX: 544, yTitleY: 210,
    xTicks: freqDiffXTicks, xLog: false, xLabelY: 396.5,
    yTicks: freqDiffYTicks, yLog: false, yLabelX: 578, yMinor: false,
  },
};

const panel3: ScatterPanel = {
  area: { L: 52, T: 463, R: 498, B: 816 },
  iso: [elowIso1, elowIso2, elowIso3], logX: false,
  xMin: 0.002, xMax: 2.975, yMin: Math.pow(10, -5.086), yMax: Math.pow(10, -0.057),
  frame: {
    title: 'Lower state energy difference for H2CO (HITRAN molecule 20)', titleX: 275, titleY: 450,
    xTitle: 'Frequency [THz]', xTitleX: 275, xTitleY: 839,
    yTitle: 'Relative lower state energy difference [%]', yTitleX: 18, yTitleY: 640,
    xTicks: elowXTicks, xLog: false, xLabelY: 826.5,
    yTicks: elowYTickExps, yLog: true, yLabelX: 27, yMinor: true,
    legend: { left: 421, top: 471, w: 66, h: 43 },
  },
};

const panel4: HistPanel = {
  area: { L: 577, T: 459, R: 1028, B: 815 },
  bins: elowDiffBins, counts: elowDiffCounts,
  xMin: -0.885, xMax: 0.937, yMin: -16, yMax: 880,
  frame: {
    title: 'Lower state energy difference distribution for H2CO (HITRAN molecule 20)', titleX: 803, titleY: 445.5,
    xTitle: 'Relative lower state energy difference [%] ' + JPL_HITRAN, xTitleX: 803, xTitleY: 838.5,
    yTitle: 'Number of transitions', yTitleX: 545, yTitleY: 637,
    xTicks: elowDiffXTicks, xLog: false, xLabelY: 826,
    yTicks: elowDiffYTicks, yLog: false, yLabelX: 573.5, yMinor: false,
  },
};

const panel5: ScatterPanel = {
  area: { L: 59, T: 893, R: 498, B: 1238 },
  iso: [intIso1, intIso2, intIso3], logX: true,
  xMin: Math.pow(10, -19.53), xMax: Math.pow(10, -0.71), yMin: Math.pow(10, -19.55), yMax: Math.pow(10, -0.735),
  diagonal: true,
  frame: {
    title: 'Intensity correlation for H2CO (HITRAN molecule 20)', titleX: 279, titleY: 879,
    xTitle: 'JPL intensity [nm\u00b2 MHz / molecule]', xTitleX: 279, xTitleY: 1268,
    yTitle: 'normalized HITRAN intensity [nm\u00b2 MHz / molecule]', yTitleX: 22, yTitleY: 1065,
    xTicks: intTickExps, xLog: true, xLabelY: 1253,
    yTicks: intTickExps, yLog: true, yLabelX: 31, yMinor: false,
    legend: { left: 428, top: 1192, w: 65, h: 42 },
  },
};

const panel6: HistPanel = {
  area: { L: 577, T: 889, R: 1028, B: 1244 },
  bins: intDiffBins, counts: intDiffCounts,
  xMin: -35.3, xMax: 37.2, yMin: -11, yMax: 573,
  frame: {
    title: 'Intensity difference distribution for H2CO (HITRAN molecule 20)', titleX: 803, titleY: 875,
    xTitle: 'Relative intensity difference [%] ' + JPL_HITRAN, xTitleX: 803, xTitleY: 1267,
    yTitle: 'Number of transitions', yTitleX: 545, yTitleY: 1067,
    xTicks: intDiffXTicks, xLog: false, xLabelY: 1255,
    yTicks: intDiffYTicks, yLog: false, yLabelX: 573.5, yMinor: false,
  },
};

const builders: ((c: HTMLCanvasElement) => Chart)[] = [
  (c) => buildScatter(c, panel1),
  (c) => buildHist(c, panel2),
  (c) => buildScatter(c, panel3),
  (c) => buildHist(c, panel4),
  (c) => buildScatter(c, panel5),
  (c) => buildHist(c, panel6),
];

export default function App() {
  const refs = useRef<(HTMLCanvasElement | null)[]>([]);
  useEffect(() => {
    const charts = builders.map((b, i) => b(refs.current[i] as HTMLCanvasElement));
    return () => charts.forEach((ch) => ch.destroy());
  }, []);
  return (
    <div style={{ position: 'fixed', left: 0, top: 0, width: 1027, height: 1280, overflow: 'hidden', background: '#fff' }}>
      {builders.map((_, i) => (
        <canvas
          key={i}
          ref={(el) => { refs.current[i] = el; }}
          width={CW}
          height={CH}
          style={{ position: 'absolute', left: 0, top: 0, width: CW, height: CH }}
        />
      ))}
    </div>
  );
}
